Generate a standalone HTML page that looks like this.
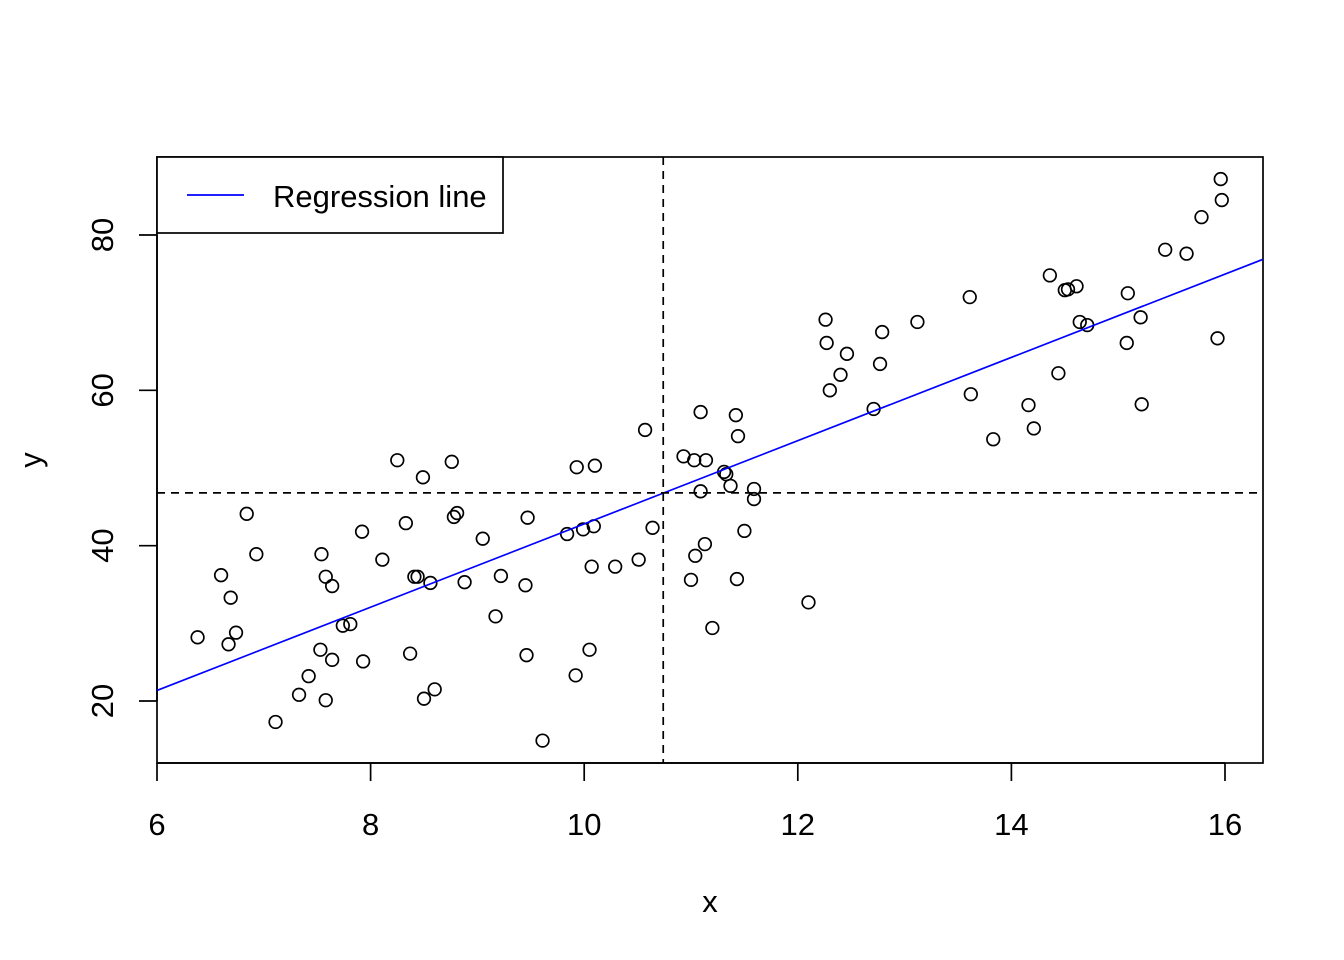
<!DOCTYPE html>
<html><head><meta charset="utf-8"><style>
html,body{margin:0;padding:0;background:#fff;}
svg{display:block;font-family:"Liberation Sans",Arial,sans-serif;}
</style></head><body>
<svg id="chart" width="1344" height="960" viewBox="0 0 1344 960"></svg>
<script>
const xs=[6.38,6.60,6.67,6.69,6.74,6.84,6.93,7.11,7.33,7.42,7.53,7.54,7.58,7.58,7.64,7.64,7.74,7.81,7.92,7.93,8.11,8.25,8.33,8.37,8.41,8.44,8.49,8.50,8.56,8.60,8.76,8.78,8.81,8.88,9.05,9.17,9.22,9.45,9.46,9.47,9.61,9.84,9.92,9.93,9.99,10.05,10.07,10.09,10.10,10.29,10.51,10.57,10.64,10.93,11.00,11.03,11.04,11.09,11.09,11.13,11.14,11.20,11.31,11.33,11.37,11.42,11.43,11.44,11.50,11.59,11.59,12.10,12.26,12.27,12.30,12.40,12.46,12.71,12.77,12.79,13.12,13.61,13.62,13.83,14.16,14.21,14.36,14.44,14.50,14.53,14.61,14.64,14.71,15.08,15.09,15.21,15.22,15.44,15.64,15.78,15.93,15.96,15.97];
const ys=[28.2,36.2,27.3,33.3,28.8,44.1,38.9,17.3,20.8,23.2,26.6,38.9,20.1,36.0,34.8,25.3,29.7,29.9,41.8,25.1,38.2,51.0,42.9,26.1,36.0,36.0,48.8,20.3,35.2,21.5,50.8,43.7,44.2,35.3,40.9,30.9,36.1,34.9,25.9,43.6,14.9,41.5,23.3,50.1,42.1,26.6,37.3,42.5,50.3,37.3,38.2,54.9,42.3,51.5,35.6,51.0,38.7,57.2,47.0,40.2,51.0,29.4,49.5,49.2,47.7,56.8,35.7,54.1,41.9,47.3,46.0,32.7,69.1,66.1,60.0,62.0,64.7,57.6,63.4,67.5,68.8,72.0,59.5,53.7,58.1,55.1,74.8,62.2,72.9,73.0,73.4,68.8,68.4,66.1,72.5,69.4,58.2,78.1,77.6,82.3,66.7,87.2,84.5];
const xTicks=[6,8,10,12,14,16];
const yTicks=[20,40,60,80];
const regIntercept=-10.8, regSlope=5.36;
const meanX=10.74, meanY=46.8;

const L=157,R=1263,T=157,B=763;
const xmin=6+(L-157)/106.8, xmax=6+(R-157)/106.8;
const sx=v=>157+(v-6)*106.8;
const sy=v=>701-(v-20)*7.7667;
const svg=document.getElementById('chart');
const NS='http://www.w3.org/2000/svg';
function mk(t,a){const e=document.createElementNS(NS,t);for(const k in a)e.setAttribute(k,a[k]);svg.appendChild(e);return e;}
const FS=31;

let e=mk('rect',{x:L,y:T,width:R-L,height:B-T,fill:'none',stroke:'#000','stroke-width':1.7});



e=mk('line',{x1:sx(xTicks[0]),x2:sx(xTicks[xTicks.length-1]),y1:B,y2:B,stroke:'#000','stroke-width':1.7});


xTicks.forEach(v=>{
  let t=mk('line',{x1:sx(v),x2:sx(v),y1:B,y2:B+18,stroke:'#000','stroke-width':1.7});
  
  
  let l=mk('text',{x:sx(v),y:835,'font-size':FS,'text-anchor':'middle'});l.textContent=v;
  
  
});
e=mk('line',{x1:L,x2:L,y1:sy(yTicks[0]),y2:sy(yTicks[yTicks.length-1]),stroke:'#000','stroke-width':1.7});


yTicks.forEach(v=>{
  let t=mk('line',{x1:L-18,x2:L,y1:sy(v),y2:sy(v),stroke:'#000','stroke-width':1.7});
  
  
  let l=mk('text',{x:0,y:0,'font-size':FS,'text-anchor':'middle',transform:`translate(113,${sy(v)}) rotate(-90)`});l.textContent=v;
  
  
});
e=mk('text',{x:710,y:912,'font-size':FS,'text-anchor':'middle'});e.textContent='x';


e=mk('text',{x:0,y:0,'font-size':FS,'text-anchor':'middle',transform:'translate(41,460) rotate(-90)'});e.textContent='y';



xs.forEach((x,i)=>{
  let c=mk('circle',{cx:sx(x),cy:sy(ys[i]),r:6.3,fill:'none',stroke:'#000','stroke-width':1.7});
  
  
});
e=mk('line',{x1:sx(xmin),y1:sy(regIntercept+regSlope*xmin),x2:sx(xmax),y2:sy(regIntercept+regSlope*xmax),stroke:'#0000ff','stroke-width':1.7});


e=mk('line',{x1:sx(meanX),x2:sx(meanX),y1:T,y2:B,stroke:'#000','stroke-width':1.7,'stroke-dasharray':'8,6'});


e=mk('line',{x1:L,x2:R,y1:sy(meanY),y2:sy(meanY),stroke:'#000','stroke-width':1.7,'stroke-dasharray':'8,6'});



e=mk('rect',{x:157,y:157,width:346,height:76,fill:'#fff',stroke:'#000','stroke-width':1.7});


e=mk('line',{x1:187,x2:244,y1:195,y2:195,stroke:'#0000ff','stroke-width':1.7});


e=mk('text',{x:273,y:207,'font-size':FS});e.textContent='Regression line';


</script>
</body></html>
